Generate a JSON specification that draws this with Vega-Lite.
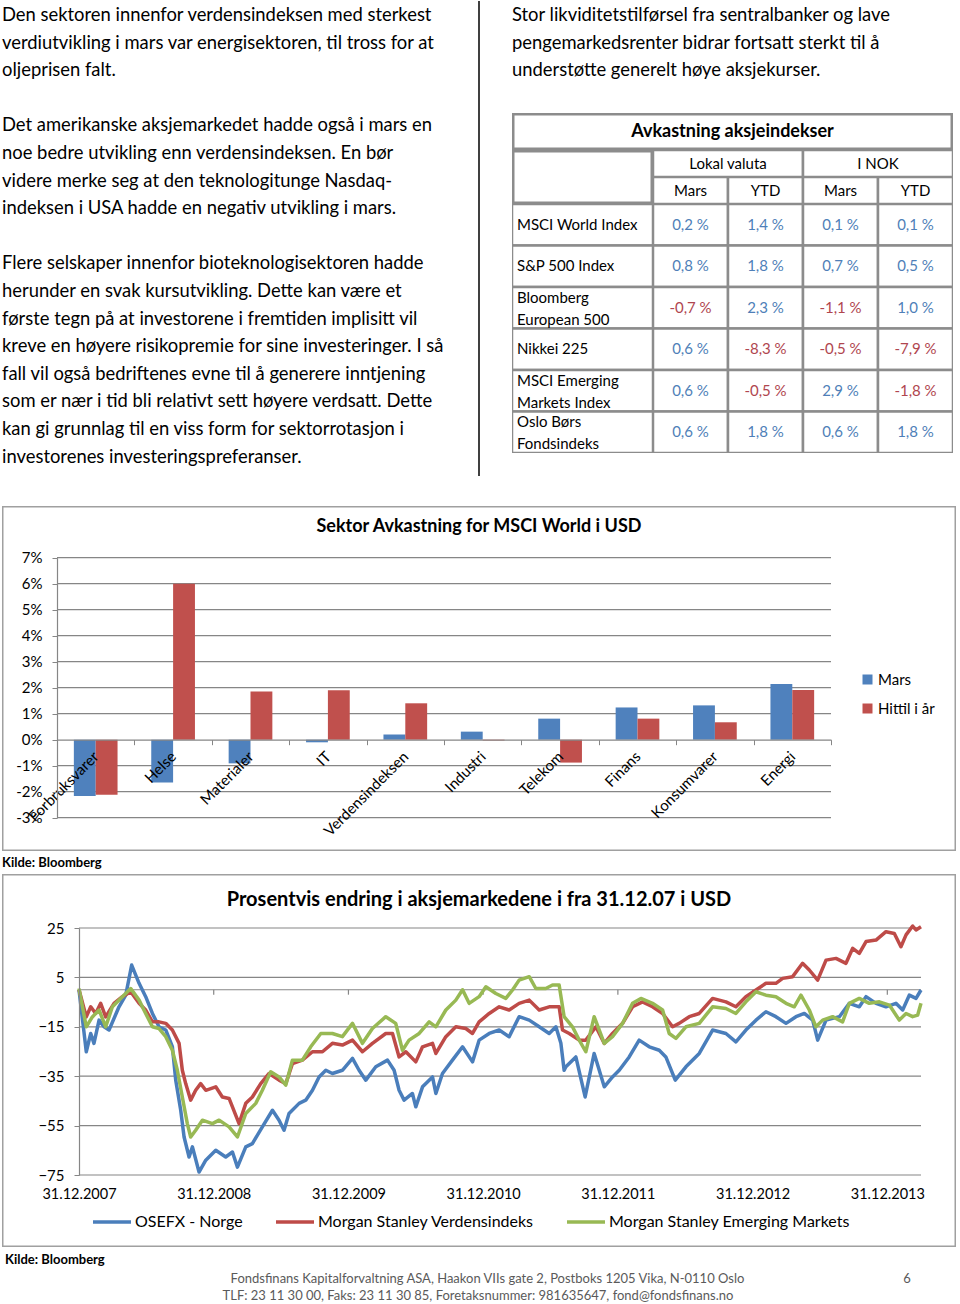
{
  "$schema": "https://vega.github.io/schema/vega-lite/v6.json",
  "padding": {"left": -3, "top": 0, "right": 0, "bottom": 0},
  "autosize": {"type": "pad"},
  "background": "white",
  "config": {
    "font": "Lato",
    "view": {"stroke": null},
    "concat": {"spacing": 0},
    "axis": {"labelFont": "Lato", "labelColor": "#000", "titleFont": "Lato"},
    "legend": {"labelFont": "Lato", "labelColor": "#000"},
    "title": {"font": "Lato", "color": "#000"},
    "text": {"font": "Lato", "color": "#000"}
  },
  "resolve": {"scale": {"color": "independent"}, "legend": {"color": "independent"}},
  "datasets": {
    "venstre": [
      {"linje": 0, "tekst": "Den sektoren innenfor verdensindeksen med sterkest"},
      {"linje": 1, "tekst": "verdiutvikling i mars var energisektoren, til tross for at"},
      {"linje": 2, "tekst": "oljeprisen falt."},
      {"linje": 4, "tekst": "Det amerikanske aksjemarkedet hadde også i mars en"},
      {"linje": 5, "tekst": "noe bedre utvikling enn verdensindeksen. En bør"},
      {"linje": 6, "tekst": "videre merke seg at den teknologitunge Nasdaq-"},
      {"linje": 7, "tekst": "indeksen i USA hadde en negativ utvikling i mars."},
      {"linje": 9, "tekst": "Flere selskaper innenfor bioteknologisektoren hadde"},
      {"linje": 10, "tekst": "herunder en svak kursutvikling. Dette kan være et"},
      {"linje": 11, "tekst": "første tegn på at investorene i fremtiden implisitt vil"},
      {"linje": 12, "tekst": "kreve en høyere risikopremie for sine investeringer. I så"},
      {"linje": 13, "tekst": "fall vil også bedriftenes evne til å generere inntjening"},
      {"linje": 14, "tekst": "som er nær i tid bli relativt sett høyere verdsatt. Dette"},
      {"linje": 15, "tekst": "kan gi grunnlag til en viss form for sektorrotasjon i"},
      {"linje": 16, "tekst": "investorenes investeringspreferanser."}
    ],
    "hoyre": [
      {"linje": 0, "tekst": "Stor likviditetstilførsel fra sentralbanker og lave"},
      {"linje": 1, "tekst": "pengemarkedsrenter bidrar fortsatt sterkt til å"},
      {"linje": 2, "tekst": "understøtte generelt høye aksjekurser."}
    ],
    "indekser": [
      {"indeks": "MSCI World Index"},
      {"indeks": "S&P 500 Index"},
      {"indeks": "Bloomberg\nEuropean 500"},
      {"indeks": "Nikkei 225"},
      {"indeks": "MSCI Emerging\nMarkets Index"},
      {"indeks": "Oslo Børs\nFondsindeks"}
    ],
    "tabell": [
      {"indeks": "MSCI World Index", "kolonne": "Lokal Mars", "verdi": 0.2, "tekst": "0,2 %"},
      {"indeks": "MSCI World Index", "kolonne": "Lokal YTD", "verdi": 1.4, "tekst": "1,4 %"},
      {"indeks": "MSCI World Index", "kolonne": "NOK Mars", "verdi": 0.1, "tekst": "0,1 %"},
      {"indeks": "MSCI World Index", "kolonne": "NOK YTD", "verdi": 0.1, "tekst": "0,1 %"},
      {"indeks": "S&P 500 Index", "kolonne": "Lokal Mars", "verdi": 0.8, "tekst": "0,8 %"},
      {"indeks": "S&P 500 Index", "kolonne": "Lokal YTD", "verdi": 1.8, "tekst": "1,8 %"},
      {"indeks": "S&P 500 Index", "kolonne": "NOK Mars", "verdi": 0.7, "tekst": "0,7 %"},
      {"indeks": "S&P 500 Index", "kolonne": "NOK YTD", "verdi": 0.5, "tekst": "0,5 %"},
      {"indeks": "Bloomberg\nEuropean 500", "kolonne": "Lokal Mars", "verdi": -0.7, "tekst": "-0,7 %"},
      {"indeks": "Bloomberg\nEuropean 500", "kolonne": "Lokal YTD", "verdi": 2.3, "tekst": "2,3 %"},
      {"indeks": "Bloomberg\nEuropean 500", "kolonne": "NOK Mars", "verdi": -1.1, "tekst": "-1,1 %"},
      {"indeks": "Bloomberg\nEuropean 500", "kolonne": "NOK YTD", "verdi": 1.0, "tekst": "1,0 %"},
      {"indeks": "Nikkei 225", "kolonne": "Lokal Mars", "verdi": 0.6, "tekst": "0,6 %"},
      {"indeks": "Nikkei 225", "kolonne": "Lokal YTD", "verdi": -8.3, "tekst": "-8,3 %"},
      {"indeks": "Nikkei 225", "kolonne": "NOK Mars", "verdi": -0.5, "tekst": "-0,5 %"},
      {"indeks": "Nikkei 225", "kolonne": "NOK YTD", "verdi": -7.9, "tekst": "-7,9 %"},
      {"indeks": "MSCI Emerging\nMarkets Index", "kolonne": "Lokal Mars", "verdi": 0.6, "tekst": "0,6 %"},
      {"indeks": "MSCI Emerging\nMarkets Index", "kolonne": "Lokal YTD", "verdi": -0.5, "tekst": "-0,5 %"},
      {"indeks": "MSCI Emerging\nMarkets Index", "kolonne": "NOK Mars", "verdi": 2.9, "tekst": "2,9 %"},
      {"indeks": "MSCI Emerging\nMarkets Index", "kolonne": "NOK YTD", "verdi": -1.8, "tekst": "-1,8 %"},
      {"indeks": "Oslo Børs\nFondsindeks", "kolonne": "Lokal Mars", "verdi": 0.6, "tekst": "0,6 %"},
      {"indeks": "Oslo Børs\nFondsindeks", "kolonne": "Lokal YTD", "verdi": 1.8, "tekst": "1,8 %"},
      {"indeks": "Oslo Børs\nFondsindeks", "kolonne": "NOK Mars", "verdi": 0.6, "tekst": "0,6 %"},
      {"indeks": "Oslo Børs\nFondsindeks", "kolonne": "NOK YTD", "verdi": 1.8, "tekst": "1,8 %"}
    ],
    "sektor": [
      {"sektor": "Forbruksvarer", "serie": "Mars", "avkastning": -2.17},
      {"sektor": "Forbruksvarer", "serie": "Hittil i år", "avkastning": -2.12},
      {"sektor": "Helse", "serie": "Mars", "avkastning": -1.65},
      {"sektor": "Helse", "serie": "Hittil i år", "avkastning": 6.0},
      {"sektor": "Materialer", "serie": "Mars", "avkastning": -0.91},
      {"sektor": "Materialer", "serie": "Hittil i år", "avkastning": 1.85},
      {"sektor": "IT", "serie": "Mars", "avkastning": -0.1},
      {"sektor": "IT", "serie": "Hittil i år", "avkastning": 1.9},
      {"sektor": "Verdensindeksen", "serie": "Mars", "avkastning": 0.2},
      {"sektor": "Verdensindeksen", "serie": "Hittil i år", "avkastning": 1.4},
      {"sektor": "Industri", "serie": "Mars", "avkastning": 0.31},
      {"sektor": "Industri", "serie": "Hittil i år", "avkastning": -0.03},
      {"sektor": "Telekom", "serie": "Mars", "avkastning": 0.81},
      {"sektor": "Telekom", "serie": "Hittil i år", "avkastning": -0.88},
      {"sektor": "Finans", "serie": "Mars", "avkastning": 1.24},
      {"sektor": "Finans", "serie": "Hittil i år", "avkastning": 0.81},
      {"sektor": "Konsumvarer", "serie": "Mars", "avkastning": 1.32},
      {"sektor": "Konsumvarer", "serie": "Hittil i år", "avkastning": 0.67},
      {"sektor": "Energi", "serie": "Mars", "avkastning": 2.14},
      {"sektor": "Energi", "serie": "Hittil i år", "avkastning": 1.91}
    ],
    "utvikling": [
      {"aar": 2008.0, "osefx": 0}, {"aar": 2008.054, "osefx": -25.1}, {"aar": 2008.087, "osefx": -17.7},
      {"aar": 2008.111, "osefx": -21.7}, {"aar": 2008.149, "osefx": -12.3}, {"aar": 2008.186, "osefx": -15.0},
      {"aar": 2008.223, "osefx": -16.3}, {"aar": 2008.297, "osefx": -6.9}, {"aar": 2008.347, "osefx": -2.2},
      {"aar": 2008.391, "osefx": 10.0}, {"aar": 2008.446, "osefx": 2.6}, {"aar": 2008.495, "osefx": -2.8},
      {"aar": 2008.545, "osefx": -9.6}, {"aar": 2008.594, "osefx": -15.0}, {"aar": 2008.644, "osefx": -16.3},
      {"aar": 2008.693, "osefx": -23.0}, {"aar": 2008.718, "osefx": -36.6}, {"aar": 2008.755, "osefx": -48.8},
      {"aar": 2008.78, "osefx": -59.6}, {"aar": 2008.817, "osefx": -67.7}, {"aar": 2008.842, "osefx": -63.6},
      {"aar": 2008.891, "osefx": -73.8}, {"aar": 2008.941, "osefx": -69.0}, {"aar": 2009.015, "osefx": -65.0},
      {"aar": 2009.089, "osefx": -67.7}, {"aar": 2009.139, "osefx": -65.7}, {"aar": 2009.176, "osefx": -71.8},
      {"aar": 2009.238, "osefx": -63.6}, {"aar": 2009.287, "osefx": -62.3}, {"aar": 2009.361, "osefx": -55.5},
      {"aar": 2009.436, "osefx": -48.8}, {"aar": 2009.485, "osefx": -52.8}, {"aar": 2009.522, "osefx": -56.9},
      {"aar": 2009.559, "osefx": -50.1}, {"aar": 2009.634, "osefx": -46.0}, {"aar": 2009.683, "osefx": -44.7},
      {"aar": 2009.733, "osefx": -40.7}, {"aar": 2009.782, "osefx": -35.3}, {"aar": 2009.832, "osefx": -32.6},
      {"aar": 2009.881, "osefx": -33.9}, {"aar": 2009.955, "osefx": -32.6}, {"aar": 2010.03, "osefx": -27.8},
      {"aar": 2010.079, "osefx": -32.6}, {"aar": 2010.129, "osefx": -36.6}, {"aar": 2010.203, "osefx": -31.2},
      {"aar": 2010.29, "osefx": -28.5}, {"aar": 2010.339, "osefx": -32.6}, {"aar": 2010.376, "osefx": -40.7},
      {"aar": 2010.413, "osefx": -44.7}, {"aar": 2010.475, "osefx": -42.0}, {"aar": 2010.5, "osefx": -47.4},
      {"aar": 2010.55, "osefx": -39.3}, {"aar": 2010.624, "osefx": -35.3}, {"aar": 2010.649, "osefx": -42.0},
      {"aar": 2010.698, "osefx": -33.9}, {"aar": 2010.772, "osefx": -28.5}, {"aar": 2010.847, "osefx": -23.1},
      {"aar": 2010.921, "osefx": -29.2}, {"aar": 2010.97, "osefx": -20.4}, {"aar": 2011.045, "osefx": -17.7},
      {"aar": 2011.119, "osefx": -16.3}, {"aar": 2011.193, "osefx": -19.0}, {"aar": 2011.267, "osefx": -10.9},
      {"aar": 2011.342, "osefx": -12.3}, {"aar": 2011.416, "osefx": -15.0}, {"aar": 2011.49, "osefx": -17.7},
      {"aar": 2011.54, "osefx": -15.0}, {"aar": 2011.577, "osefx": -21.7}, {"aar": 2011.601, "osefx": -32.6},
      {"aar": 2011.614, "osefx": -31.2}, {"aar": 2011.688, "osefx": -27.2}, {"aar": 2011.757, "osefx": -43.4},
      {"aar": 2011.824, "osefx": -25.8}, {"aar": 2011.899, "osefx": -39.3}, {"aar": 2011.96, "osefx": -35.3},
      {"aar": 2012.01, "osefx": -32.6}, {"aar": 2012.084, "osefx": -27.2}, {"aar": 2012.158, "osefx": -20.4},
      {"aar": 2012.233, "osefx": -23.1}, {"aar": 2012.307, "osefx": -24.5}, {"aar": 2012.356, "osefx": -27.2},
      {"aar": 2012.426, "osefx": -36.6}, {"aar": 2012.505, "osefx": -31.2}, {"aar": 2012.604, "osefx": -25.8},
      {"aar": 2012.703, "osefx": -16.3}, {"aar": 2012.802, "osefx": -17.7}, {"aar": 2012.876, "osefx": -21.1},
      {"aar": 2012.95, "osefx": -16.3}, {"aar": 2013.025, "osefx": -12.3}, {"aar": 2013.099, "osefx": -8.9},
      {"aar": 2013.173, "osefx": -10.9}, {"aar": 2013.248, "osefx": -13.6}, {"aar": 2013.322, "osefx": -10.9},
      {"aar": 2013.384, "osefx": -9.6}, {"aar": 2013.446, "osefx": -12.3}, {"aar": 2013.483, "osefx": -20.4},
      {"aar": 2013.545, "osefx": -12.3}, {"aar": 2013.644, "osefx": -10.9}, {"aar": 2013.718, "osefx": -5.5},
      {"aar": 2013.792, "osefx": -6.9}, {"aar": 2013.842, "osefx": -2.8}, {"aar": 2013.916, "osefx": -5.5},
      {"aar": 2013.99, "osefx": -6.9}, {"aar": 2014.064, "osefx": -5.5}, {"aar": 2014.114, "osefx": -8.2},
      {"aar": 2014.163, "osefx": -2.2}, {"aar": 2014.213, "osefx": -3.5}, {"aar": 2014.25, "osefx": -0.1},

      {"aar": 2008.0, "verden": 0}, {"aar": 2008.054, "verden": -11.0}, {"aar": 2008.087, "verden": -6.9},
      {"aar": 2008.124, "verden": -9.6}, {"aar": 2008.161, "verden": -5.5}, {"aar": 2008.198, "verden": -11.0},
      {"aar": 2008.26, "verden": -5.5}, {"aar": 2008.322, "verden": -2.8}, {"aar": 2008.384, "verden": -0.8},
      {"aar": 2008.446, "verden": -5.5}, {"aar": 2008.495, "verden": -8.2}, {"aar": 2008.545, "verden": -13.0},
      {"aar": 2008.594, "verden": -13.0}, {"aar": 2008.644, "verden": -13.6}, {"aar": 2008.693, "verden": -16.3},
      {"aar": 2008.743, "verden": -21.7}, {"aar": 2008.767, "verden": -32.6}, {"aar": 2008.792, "verden": -38.0},
      {"aar": 2008.829, "verden": -44.7}, {"aar": 2008.866, "verden": -40.7}, {"aar": 2008.903, "verden": -38.0},
      {"aar": 2008.941, "verden": -40.7}, {"aar": 2009.015, "verden": -39.3}, {"aar": 2009.064, "verden": -43.4},
      {"aar": 2009.114, "verden": -44.0}, {"aar": 2009.188, "verden": -54.2}, {"aar": 2009.238, "verden": -46.0},
      {"aar": 2009.287, "verden": -43.4}, {"aar": 2009.349, "verden": -38.0}, {"aar": 2009.411, "verden": -33.9},
      {"aar": 2009.485, "verden": -36.6}, {"aar": 2009.535, "verden": -38.0}, {"aar": 2009.584, "verden": -29.9},
      {"aar": 2009.658, "verden": -28.5}, {"aar": 2009.733, "verden": -25.1}, {"aar": 2009.807, "verden": -25.1},
      {"aar": 2009.881, "verden": -21.7}, {"aar": 2009.955, "verden": -22.4}, {"aar": 2010.03, "verden": -20.4},
      {"aar": 2010.104, "verden": -25.1}, {"aar": 2010.178, "verden": -21.7}, {"aar": 2010.277, "verden": -17.7},
      {"aar": 2010.327, "verden": -17.7}, {"aar": 2010.376, "verden": -27.2}, {"aar": 2010.426, "verden": -25.1},
      {"aar": 2010.5, "verden": -29.2}, {"aar": 2010.55, "verden": -23.1}, {"aar": 2010.624, "verden": -21.7},
      {"aar": 2010.649, "verden": -25.8}, {"aar": 2010.723, "verden": -19.0}, {"aar": 2010.797, "verden": -15.0},
      {"aar": 2010.871, "verden": -15.7}, {"aar": 2010.921, "verden": -17.7}, {"aar": 2010.97, "verden": -13.0},
      {"aar": 2011.045, "verden": -9.6}, {"aar": 2011.119, "verden": -6.9}, {"aar": 2011.193, "verden": -8.2},
      {"aar": 2011.267, "verden": -5.5}, {"aar": 2011.342, "verden": -4.2}, {"aar": 2011.416, "verden": -8.2},
      {"aar": 2011.49, "verden": -6.9}, {"aar": 2011.564, "verden": -6.9}, {"aar": 2011.589, "verden": -16.3},
      {"aar": 2011.639, "verden": -17.7}, {"aar": 2011.713, "verden": -20.4}, {"aar": 2011.762, "verden": -20.4},
      {"aar": 2011.837, "verden": -15.0}, {"aar": 2011.899, "verden": -21.7}, {"aar": 2011.96, "verden": -17.7},
      {"aar": 2012.035, "verden": -13.6}, {"aar": 2012.109, "verden": -6.9}, {"aar": 2012.183, "verden": -4.9},
      {"aar": 2012.257, "verden": -6.9}, {"aar": 2012.332, "verden": -9.6}, {"aar": 2012.406, "verden": -15.0},
      {"aar": 2012.455, "verden": -13.6}, {"aar": 2012.53, "verden": -10.9}, {"aar": 2012.604, "verden": -9.6},
      {"aar": 2012.703, "verden": -3.5}, {"aar": 2012.802, "verden": -4.9}, {"aar": 2012.876, "verden": -6.9},
      {"aar": 2012.95, "verden": -2.8}, {"aar": 2013.025, "verden": -0.1}, {"aar": 2013.099, "verden": 2.6},
      {"aar": 2013.173, "verden": 2.6}, {"aar": 2013.223, "verden": 4.6}, {"aar": 2013.297, "verden": 5.3},
      {"aar": 2013.371, "verden": 10.7}, {"aar": 2013.421, "verden": 8.0}, {"aar": 2013.483, "verden": 3.9},
      {"aar": 2013.545, "verden": 12.0}, {"aar": 2013.619, "verden": 12.7}, {"aar": 2013.693, "verden": 10.7},
      {"aar": 2013.743, "verden": 16.8}, {"aar": 2013.792, "verden": 14.7}, {"aar": 2013.842, "verden": 19.5},
      {"aar": 2013.916, "verden": 20.1}, {"aar": 2013.99, "verden": 23.5}, {"aar": 2014.052, "verden": 22.8},
      {"aar": 2014.101, "verden": 17.4}, {"aar": 2014.139, "verden": 22.2}, {"aar": 2014.188, "verden": 25.8},
      {"aar": 2014.213, "verden": 24.2}, {"aar": 2014.25, "verden": 25.5},

      {"aar": 2008.0, "em": 0.5}, {"aar": 2008.054, "em": -15.0}, {"aar": 2008.099, "em": -11.0},
      {"aar": 2008.149, "em": -8.2}, {"aar": 2008.198, "em": -15.0}, {"aar": 2008.248, "em": -6.9},
      {"aar": 2008.322, "em": -2.8}, {"aar": 2008.384, "em": 0.5}, {"aar": 2008.446, "em": -4.2},
      {"aar": 2008.495, "em": -9.6}, {"aar": 2008.545, "em": -15.0}, {"aar": 2008.594, "em": -15.7},
      {"aar": 2008.644, "em": -19.0}, {"aar": 2008.693, "em": -24.5}, {"aar": 2008.73, "em": -32.6},
      {"aar": 2008.767, "em": -43.4}, {"aar": 2008.804, "em": -54.2}, {"aar": 2008.829, "em": -59.6},
      {"aar": 2008.866, "em": -56.9}, {"aar": 2008.916, "em": -52.8}, {"aar": 2008.99, "em": -54.2},
      {"aar": 2009.04, "em": -52.8}, {"aar": 2009.114, "em": -55.5}, {"aar": 2009.176, "em": -59.6},
      {"aar": 2009.238, "em": -50.1}, {"aar": 2009.312, "em": -46.0}, {"aar": 2009.361, "em": -40.7},
      {"aar": 2009.423, "em": -33.2}, {"aar": 2009.485, "em": -35.3}, {"aar": 2009.535, "em": -38.6},
      {"aar": 2009.584, "em": -28.5}, {"aar": 2009.658, "em": -28.5}, {"aar": 2009.72, "em": -23.1},
      {"aar": 2009.795, "em": -17.7}, {"aar": 2009.881, "em": -17.7}, {"aar": 2009.955, "em": -19.0},
      {"aar": 2010.03, "em": -13.6}, {"aar": 2010.104, "em": -21.7}, {"aar": 2010.178, "em": -15.7},
      {"aar": 2010.277, "em": -10.9}, {"aar": 2010.351, "em": -13.6}, {"aar": 2010.401, "em": -24.5},
      {"aar": 2010.45, "em": -20.4}, {"aar": 2010.525, "em": -17.7}, {"aar": 2010.599, "em": -13.0},
      {"aar": 2010.649, "em": -15.0}, {"aar": 2010.723, "em": -8.2}, {"aar": 2010.797, "em": -4.2},
      {"aar": 2010.847, "em": 0.0}, {"aar": 2010.896, "em": -5.5}, {"aar": 2010.97, "em": -2.8},
      {"aar": 2011.02, "em": 1.2}, {"aar": 2011.094, "em": -1.5}, {"aar": 2011.168, "em": -3.5},
      {"aar": 2011.218, "em": -0.1}, {"aar": 2011.267, "em": 3.9}, {"aar": 2011.342, "em": 5.3},
      {"aar": 2011.391, "em": 0.5}, {"aar": 2011.465, "em": 0.5}, {"aar": 2011.515, "em": 1.9},
      {"aar": 2011.564, "em": 1.9}, {"aar": 2011.601, "em": -10.9}, {"aar": 2011.663, "em": -15.0},
      {"aar": 2011.713, "em": -20.4}, {"aar": 2011.762, "em": -25.1}, {"aar": 2011.824, "em": -10.9},
      {"aar": 2011.899, "em": -21.7}, {"aar": 2011.96, "em": -19.0}, {"aar": 2012.035, "em": -13.6},
      {"aar": 2012.109, "em": -5.5}, {"aar": 2012.171, "em": -3.5}, {"aar": 2012.257, "em": -5.5},
      {"aar": 2012.332, "em": -8.2}, {"aar": 2012.381, "em": -17.7}, {"aar": 2012.431, "em": -19.7},
      {"aar": 2012.505, "em": -15.0}, {"aar": 2012.604, "em": -13.6}, {"aar": 2012.703, "em": -6.9},
      {"aar": 2012.802, "em": -7.6}, {"aar": 2012.876, "em": -9.6}, {"aar": 2012.95, "em": -4.9},
      {"aar": 2013.025, "em": -0.8}, {"aar": 2013.099, "em": -2.2}, {"aar": 2013.173, "em": -2.8},
      {"aar": 2013.248, "em": -5.5}, {"aar": 2013.309, "em": -6.9}, {"aar": 2013.359, "em": -2.2},
      {"aar": 2013.421, "em": -8.2}, {"aar": 2013.47, "em": -15.0}, {"aar": 2013.52, "em": -12.3},
      {"aar": 2013.594, "em": -10.9}, {"aar": 2013.668, "em": -13.0}, {"aar": 2013.718, "em": -5.5},
      {"aar": 2013.792, "em": -3.5}, {"aar": 2013.866, "em": -5.5}, {"aar": 2013.941, "em": -4.9},
      {"aar": 2014.015, "em": -6.2}, {"aar": 2014.089, "em": -12.3}, {"aar": 2014.139, "em": -9.6},
      {"aar": 2014.188, "em": -10.9}, {"aar": 2014.225, "em": -10.3}, {"aar": 2014.25, "em": -5.5}
    ]
  },
  "spacing": 0,
  "vconcat": [
    {
      "spacing": 32,
      "hconcat": [
        {
          "width": 477,
          "height": 505,
          "layer": [
            {
              "data": {"name": "venstre"},
              "mark": {"type": "text", "align": "left", "baseline": "middle", "fontSize": 18.4},
              "encoding": {
                "x": {"value": 0},
                "y": {"field": "linje", "type": "quantitative", "scale": {"domain": [-0.507, 17.79], "reverse": true, "nice": false, "zero": false}, "axis": null},
                "text": {"field": "tekst"}
              }
            },
            {
              "data": {"values": [{"del": "skillelinje"}]},
              "mark": {"type": "rule", "color": "#000", "strokeWidth": 1.5},
              "encoding": {
                "x": {"value": "width"},
                "y": {"datum": -0.507, "type": "quantitative", "axis": null},
                "y2": {"datum": 16.7}
              }
            }
          ]
        },
        {
          "spacing": 0,
          "vconcat": [
            {
              "width": 441,
              "height": 112,
              "data": {"name": "hoyre"},
              "mark": {"type": "text", "align": "left", "baseline": "middle", "fontSize": 18.4},
              "encoding": {
                "x": {"value": 0},
                "y": {"field": "linje", "type": "quantitative", "scale": {"domain": [-0.507, 3.551], "reverse": true, "nice": false, "zero": false}, "axis": null},
                "text": {"field": "tekst"}
              }
            },
            {
              "width": 441,
              "height": 37,
              "data": {"values": [{"tittel": "Avkastning aksjeindekser"}]},
              "layer": [
                {"mark": {"type": "rect", "fill": "#fff", "stroke": "#8c8c8c", "strokeWidth": 5, "clip": true}},
                {"mark": {"type": "text", "fontSize": 18, "fontWeight": "bold"}, "encoding": {"text": {"field": "tittel"}}}
              ]
            },
            {
              "spacing": 0,
              "hconcat": [
                {
                  "width": 141,
                  "height": 54,
                  "data": {"values": [{"tom": ""}]},
                  "mark": {"type": "rect", "fill": "#fff", "stroke": "#8c8c8c", "strokeWidth": 5, "clip": true}
                },
                {
                  "spacing": 0,
                  "vconcat": [
                    {
                      "width": 300,
                      "height": 27,
                      "data": {"values": [{"gruppe": "Lokal valuta"}, {"gruppe": "I NOK"}]},
                      "encoding": {
                        "x": {"field": "gruppe", "type": "nominal", "sort": null, "scale": {"paddingInner": 0, "paddingOuter": 0}, "axis": null}
                      },
                      "layer": [
                        {"mark": {"type": "rect", "fill": "#fff", "stroke": "#8c8c8c", "strokeWidth": 2.5, "clip": true}},
                        {"mark": {"type": "text", "fontSize": 15}, "encoding": {"text": {"field": "gruppe"}}}
                      ]
                    },
                    {
                      "width": 300,
                      "height": 27,
                      "data": {"values": [
                        {"kolonne": "Lokal Mars", "overskrift": "Mars"},
                        {"kolonne": "Lokal YTD", "overskrift": "YTD"},
                        {"kolonne": "NOK Mars", "overskrift": "Mars"},
                        {"kolonne": "NOK YTD", "overskrift": "YTD"}
                      ]},
                      "encoding": {
                        "x": {"field": "kolonne", "type": "nominal", "sort": null, "scale": {"paddingInner": 0, "paddingOuter": 0}, "axis": null}
                      },
                      "layer": [
                        {"mark": {"type": "rect", "fill": "#fff", "stroke": "#8c8c8c", "strokeWidth": 2.5, "clip": true}},
                        {"mark": {"type": "text", "fontSize": 15}, "encoding": {"text": {"field": "overskrift"}}}
                      ]
                    }
                  ]
                }
              ]
            },
            {
              "spacing": 0,
              "hconcat": [
                {
                  "width": 141,
                  "height": 249,
                  "data": {"name": "indekser"},
                  "encoding": {
                    "y": {"field": "indeks", "type": "nominal", "sort": null, "scale": {"paddingInner": 0, "paddingOuter": 0}, "axis": null}
                  },
                  "layer": [
                    {"mark": {"type": "rect", "fill": "#fff", "stroke": "#8c8c8c", "strokeWidth": 2.5, "clip": true}},
                    {
                      "transform": [{"filter": "indexof(datum.indeks, '\\n') < 0"}],
                      "mark": {"type": "text", "align": "left", "baseline": "middle", "fontSize": 15},
                      "encoding": {"x": {"value": 5}, "text": {"field": "indeks"}}
                    },
                    {
                      "transform": [{"filter": "indexof(datum.indeks, '\\n') >= 0"}],
                      "mark": {"type": "text", "align": "left", "baseline": "middle", "fontSize": 15, "lineBreak": "\n", "lineHeight": 22, "dy": -10},
                      "encoding": {"x": {"value": 5}, "text": {"field": "indeks"}}
                    }
                  ]
                },
                {
                  "width": 300,
                  "height": 249,
                  "data": {"name": "tabell"},
                  "encoding": {
                    "x": {"field": "kolonne", "type": "nominal", "scale": {"domain": ["Lokal Mars", "Lokal YTD", "NOK Mars", "NOK YTD"], "paddingInner": 0, "paddingOuter": 0}, "axis": null},
                    "y": {"field": "indeks", "type": "nominal", "scale": {"domain": ["MSCI World Index", "S&P 500 Index", "Bloomberg\nEuropean 500", "Nikkei 225", "MSCI Emerging\nMarkets Index", "Oslo Børs\nFondsindeks"], "paddingInner": 0, "paddingOuter": 0}, "axis": null}
                  },
                  "layer": [
                    {"mark": {"type": "rect", "fill": "#fff", "stroke": "#8c8c8c", "strokeWidth": 2.5, "clip": true}},
                    {
                      "mark": {"type": "text", "fontSize": 15},
                      "encoding": {
                        "text": {"field": "tekst"},
                        "color": {"condition": {"test": "datum.verdi < 0", "value": "#b0464f"}, "value": "#4f7fb8"}
                      }
                    }
                  ]
                }
              ]
            }
          ]
        }
      ]
    },
    {
      "width": 954,
      "height": 345,
      "title": {"text": "Sektor Avkastning for MSCI World i USD", "fontSize": 18, "fontWeight": "bold", "offset": -30, "anchor": "middle"},
      "resolve": {"scale": {"x": "independent"}},
      "layer": [
        {
          "data": {"values": [{"niva": -3}, {"niva": -2}, {"niva": -1}, {"niva": 1}, {"niva": 2}, {"niva": 3}, {"niva": 4}, {"niva": 5}, {"niva": 6}, {"niva": 7}]},
          "mark": {"type": "rule", "color": "#868686", "strokeWidth": 1.2},
          "encoding": {
            "y": {
              "field": "niva", "type": "quantitative",
              "scale": {"domain": [-3, 7], "range": [311.7, 51.7], "nice": false, "zero": false},
              "axis": {"values": [-3, -2, -1, 0, 1, 2, 3, 4, 5, 6, 7], "labelExpr": "datum.value + '%'", "offset": -55, "title": null, "grid": false, "domainColor": "#868686", "domainWidth": 1.2, "tickColor": "#868686", "tickSize": 5, "labelFontSize": 15, "labelPadding": 10, "zindex": 1}
            },
            "x": {"datum": 0, "type": "quantitative", "scale": {"domain": [0, 1], "range": [55, 829], "nice": false, "zero": false}, "axis": null},
            "x2": {"datum": 1}
          }
        },
        {
          "data": {"name": "sektor"},
          "mark": {"type": "bar"},
          "encoding": {
            "x": {
              "field": "sektor", "type": "nominal",
              "scale": {"domain": ["Forbruksvarer", "Helse", "Materialer", "IT", "Verdensindeksen", "Industri", "Telekom", "Finans", "Konsumvarer", "Energi"], "range": [55, 829], "paddingInner": 0, "paddingOuter": 0},
              "axis": {"orient": "bottom", "offset": -111.3, "title": null, "grid": false, "domainColor": "#868686", "domainWidth": 1.2, "tickColor": "#868686", "tickSize": 5, "tickBand": "extent", "labelAngle": -45, "labelAlign": "right", "labelBaseline": "middle", "labelFontSize": 15, "labelPadding": 9, "labelOverlap": false, "zindex": 1}
            },
            "xOffset": {"field": "serie", "type": "nominal", "scale": {"domain": ["Mars", "Hittil i år"], "paddingInner": 0, "paddingOuter": 0.771}},
            "y": {
              "field": "avkastning", "type": "quantitative",
              "scale": {"domain": [-3, 7], "range": [311.7, 51.7], "nice": false, "zero": false},
              "axis": {"values": [-3, -2, -1, 0, 1, 2, 3, 4, 5, 6, 7], "labelExpr": "datum.value + '%'", "offset": -55, "title": null, "grid": false, "domainColor": "#868686", "domainWidth": 1.2, "tickColor": "#868686", "tickSize": 5, "labelFontSize": 15, "labelPadding": 10, "zindex": 1}
            },
            "color": {
              "field": "serie", "type": "nominal",
              "scale": {"domain": ["Mars", "Hittil i år"], "range": ["#4f81bd", "#c0504d"]},
              "legend": {"orient": "none", "legendX": 858, "legendY": 166, "title": null, "symbolType": "square", "symbolSize": 100, "labelFontSize": 15, "rowPadding": 13, "labelOffset": 3}
            }
          }
        },
        {
          "data": {"values": [{"ramme": "ramme"}]},
          "mark": {"type": "rect", "fill": "transparent", "stroke": "#a0a0a0", "strokeWidth": 3, "clip": true}
        }
      ]
    },
    {
      "width": 954,
      "height": 23,
      "data": {"values": [{"kilde": "Kilde: Bloomberg"}]},
      "mark": {"type": "text", "align": "left", "baseline": "middle", "fontSize": 13, "fontWeight": "bold"},
      "encoding": {"x": {"value": 0}, "text": {"field": "kilde"}}
    },
    {
      "width": 954,
      "height": 373,
      "title": {"text": "Prosentvis endring i aksjemarkedene i fra 31.12.07 i USD", "fontSize": 20, "fontWeight": "bold", "offset": -36, "anchor": "middle"},
      "layer": [
        {
          "data": {"values": [{"niva": 25}, {"niva": 5}, {"niva": 0}, {"niva": -15}, {"niva": -35}, {"niva": -55}, {"niva": -75}]},
          "mark": {"type": "rule", "color": "#868686", "strokeWidth": 1.2},
          "encoding": {
            "y": {
              "field": "niva", "type": "quantitative",
              "scale": {"domain": [-75, 25], "range": [301, 54], "nice": false, "zero": false},
              "axis": {"values": [-75, -55, -35, -15, 5, 25], "offset": -77, "title": null, "grid": false, "domainColor": "#868686", "domainWidth": 1.2, "tickColor": "#868686", "tickSize": 5, "labelFontSize": 15, "labelPadding": 10, "zindex": 1}
            },
            "x": {
              "datum": 2008, "type": "quantitative",
              "scale": {"domain": [2008, 2014.25], "range": [77, 919], "nice": false, "zero": false},
              "axis": {"values": [2008, 2009, 2010, 2011, 2012, 2013, 2014], "labelExpr": "'31.12.' + (datum.value - 1)", "orient": "bottom", "offset": -72, "domain": false, "ticks": false, "grid": false, "title": null, "labelFontSize": 14.5, "labelPadding": 12, "labelFlush": false, "labelOverlap": false, "zindex": 1}
            },
            "x2": {"datum": 2014.25}
          }
        },
        {
          "data": {"values": [{"aar": 2008}, {"aar": 2009}, {"aar": 2010}, {"aar": 2011}, {"aar": 2012}, {"aar": 2013}, {"aar": 2014}]},
          "mark": {"type": "rule", "color": "#868686", "strokeWidth": 1.2},
          "encoding": {
            "x": {
              "field": "aar", "type": "quantitative",
              "scale": {"domain": [2008, 2014.25], "range": [77, 919], "nice": false, "zero": false},
              "axis": {"values": [2008, 2009, 2010, 2011, 2012, 2013, 2014], "labelExpr": "'31.12.' + (datum.value - 1)", "orient": "bottom", "offset": -72, "domain": false, "ticks": false, "grid": false, "title": null, "labelFontSize": 14.5, "labelPadding": 12, "labelFlush": false, "labelOverlap": false, "zindex": 1}
            },
            "y": {
              "datum": 0, "type": "quantitative",
              "scale": {"domain": [-75, 25], "range": [301, 54], "nice": false, "zero": false},
              "axis": {"values": [-75, -55, -35, -15, 5, 25], "offset": -77, "title": null, "grid": false, "domainColor": "#868686", "domainWidth": 1.2, "tickColor": "#868686", "tickSize": 5, "labelFontSize": 15, "labelPadding": 10, "zindex": 1}
            },
            "y2": {"datum": -2}
          }
        },
        {
          "data": {"name": "utvikling"},
          "transform": [
            {"fold": ["osefx", "verden", "em"], "as": ["serie", "endring"]},
            {"filter": {"field": "serie", "equal": "osefx"}},
            {"filter": "isValid(datum.endring)"}
          ],
          "mark": {"type": "line", "strokeWidth": 3.5, "strokeJoin": "round"},
          "encoding": {
            "x": {
              "field": "aar", "type": "quantitative",
              "scale": {"domain": [2008, 2014.25], "range": [77, 919], "nice": false, "zero": false},
              "axis": {"values": [2008, 2009, 2010, 2011, 2012, 2013, 2014], "labelExpr": "'31.12.' + (datum.value - 1)", "orient": "bottom", "offset": -72, "domain": false, "ticks": false, "grid": false, "title": null, "labelFontSize": 14.5, "labelPadding": 12, "labelFlush": false, "labelOverlap": false, "zindex": 1}
            },
            "y": {
              "field": "endring", "type": "quantitative",
              "scale": {"domain": [-75, 25], "range": [301, 54], "nice": false, "zero": false},
              "axis": {"values": [-75, -55, -35, -15, 5, 25], "offset": -77, "title": null, "grid": false, "domainColor": "#868686", "domainWidth": 1.2, "tickColor": "#868686", "tickSize": 5, "labelFontSize": 15, "labelPadding": 10, "zindex": 1}
            },
            "color": {
              "field": "serie", "type": "nominal",
              "scale": {"domain": ["osefx", "verden", "em"], "range": ["#4a7ebb", "#be4b48", "#98b954"]},
              "legend": {"orient": "none", "legendX": 89, "legendY": 327, "direction": "horizontal", "title": null, "symbolType": "stroke", "symbolSize": 1444, "symbolStrokeWidth": 3.5, "labelFontSize": 16, "labelLimit": 400, "columnPadding": 26, "labelOffset": 2,
                "labelExpr": "datum.label == 'osefx' ? 'OSEFX - Norge' : datum.label == 'verden' ? 'Morgan Stanley Verdensindeks' : 'Morgan Stanley Emerging Markets'"}
            }
          }
        },
        {
          "data": {"name": "utvikling"},
          "transform": [
            {"fold": ["osefx", "verden", "em"], "as": ["serie", "endring"]},
            {"filter": {"field": "serie", "equal": "verden"}},
            {"filter": "isValid(datum.endring)"}
          ],
          "mark": {"type": "line", "strokeWidth": 3.5, "strokeJoin": "round"},
          "encoding": {
            "x": {
              "field": "aar", "type": "quantitative",
              "axis": {"values": [2008, 2009, 2010, 2011, 2012, 2013, 2014], "labelExpr": "'31.12.' + (datum.value - 1)", "orient": "bottom", "offset": -72, "domain": false, "ticks": false, "grid": false, "title": null, "labelFontSize": 14.5, "labelPadding": 12, "labelFlush": false, "labelOverlap": false, "zindex": 1}
            },
            "y": {
              "field": "endring", "type": "quantitative",
              "axis": {"values": [-75, -55, -35, -15, 5, 25], "offset": -77, "title": null, "grid": false, "domainColor": "#868686", "domainWidth": 1.2, "tickColor": "#868686", "tickSize": 5, "labelFontSize": 15, "labelPadding": 10, "zindex": 1}
            },
            "color": {"field": "serie", "type": "nominal"}
          }
        },
        {
          "data": {"name": "utvikling"},
          "transform": [
            {"fold": ["osefx", "verden", "em"], "as": ["serie", "endring"]},
            {"filter": {"field": "serie", "equal": "em"}},
            {"filter": "isValid(datum.endring)"}
          ],
          "mark": {"type": "line", "strokeWidth": 3.5, "strokeJoin": "round"},
          "encoding": {
            "x": {
              "field": "aar", "type": "quantitative",
              "axis": {"values": [2008, 2009, 2010, 2011, 2012, 2013, 2014], "labelExpr": "'31.12.' + (datum.value - 1)", "orient": "bottom", "offset": -72, "domain": false, "ticks": false, "grid": false, "title": null, "labelFontSize": 14.5, "labelPadding": 12, "labelFlush": false, "labelOverlap": false, "zindex": 1}
            },
            "y": {
              "field": "endring", "type": "quantitative",
              "axis": {"values": [-75, -55, -35, -15, 5, 25], "offset": -77, "title": null, "grid": false, "domainColor": "#868686", "domainWidth": 1.2, "tickColor": "#868686", "tickSize": 5, "labelFontSize": 15, "labelPadding": 10, "zindex": 1}
            },
            "color": {"field": "serie", "type": "nominal"}
          }
        },
        {
          "data": {"values": [{"ramme": "ramme"}]},
          "mark": {"type": "rect", "fill": "transparent", "stroke": "#a0a0a0", "strokeWidth": 3, "clip": true}
        }
      ]
    },
    {
      "width": 954,
      "height": 58,
      "layer": [
        {
          "data": {"values": [{"tekst": "Kilde: Bloomberg"}]},
          "mark": {"type": "text", "align": "left", "baseline": "middle", "fontSize": 13, "fontWeight": "bold"},
          "encoding": {"x": {"value": 3}, "y": {"value": 13}, "text": {"field": "tekst"}}
        },
        {
          "data": {"values": [{"tekst": "Fondsfinans Kapitalforvaltning ASA, Haakon VIIs gate 2, Postboks 1205 Vika, N-0110 Oslo"}]},
          "mark": {"type": "text", "align": "center", "baseline": "middle", "fontSize": 13, "color": "#5a5a5a"},
          "encoding": {"x": {"value": 485.5}, "y": {"value": 32}, "text": {"field": "tekst"}}
        },
        {
          "data": {"values": [{"tekst": "TLF: 23 11 30 00, Faks: 23 11 30 85, Foretaksnummer: 981635647, fond@fondsfinans.no"}]},
          "mark": {"type": "text", "align": "center", "baseline": "middle", "fontSize": 13, "color": "#5a5a5a"},
          "encoding": {"x": {"value": 476}, "y": {"value": 49}, "text": {"field": "tekst"}}
        },
        {
          "data": {"values": [{"tekst": "6"}]},
          "mark": {"type": "text", "align": "center", "baseline": "middle", "fontSize": 13, "color": "#5a5a5a"},
          "encoding": {"x": {"value": 905}, "y": {"value": 32}, "text": {"field": "tekst"}}
        }
      ]
    }
  ]
}
